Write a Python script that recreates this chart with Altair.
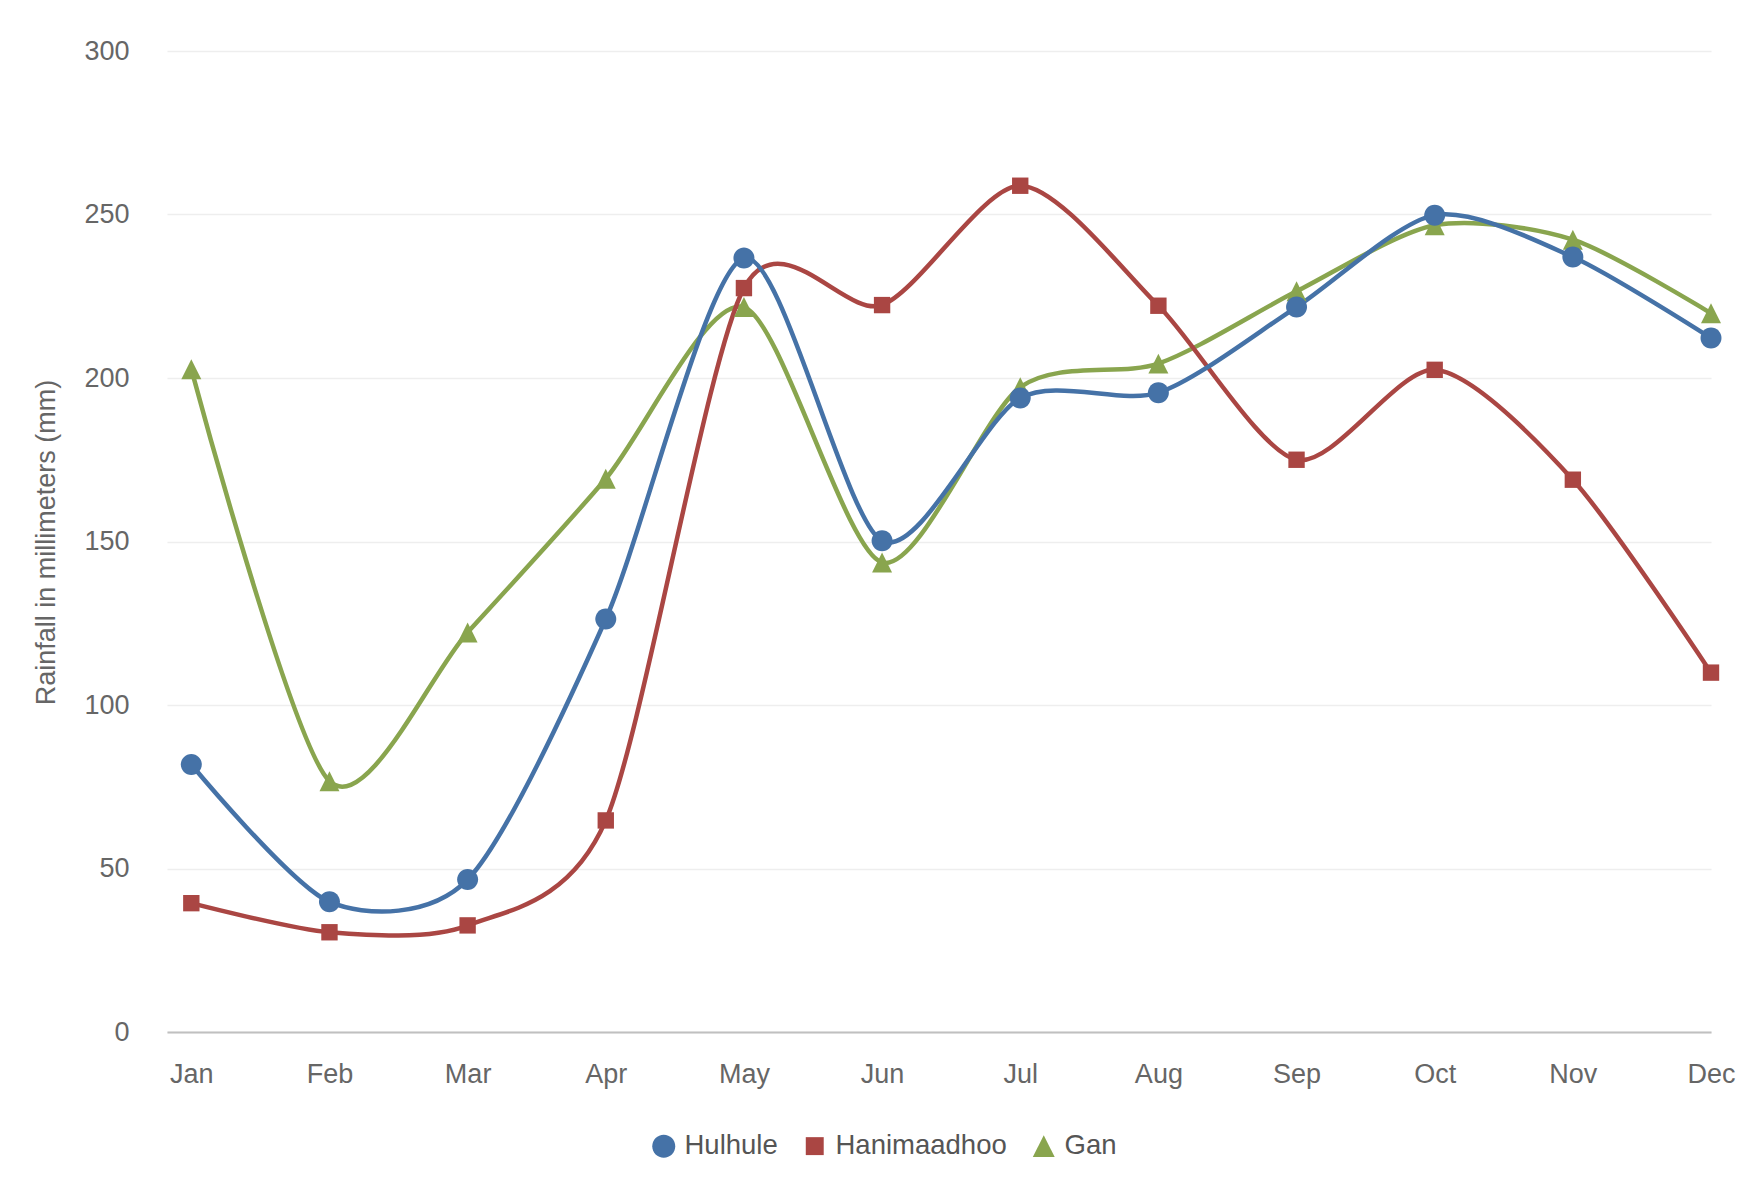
import altair as alt
import pandas as pd

months = ["Jan", "Feb", "Mar", "Apr", "May", "Jun", "Jul", "Aug", "Sep", "Oct", "Nov", "Dec"]
series_names = ["Hulhule", "Hanimaadhoo", "Gan"]
hulhule = [81.8, 39.8, 46.6, 126.3, 236.7, 150.2, 193.9, 195.5, 221.7, 249.8, 237.0, 212.2]
hanimaadhoo = [39.4, 30.5, 32.6, 64.7, 227.5, 222.3, 258.8, 222.1, 175.0, 202.5, 168.9, 109.9]
gan = [202.7, 76.7, 122.2, 169.2, 221.7, 143.6, 197.2, 204.4, 226.5, 246.7, 242.3, 219.8]
y_ticks = [0, 50, 100, 150, 200, 250, 300]

colors = ["#4572A7", "#AA4643", "#89A54E"]
shapes = ["M1,0A1,1,0,1,1,-1,0A1,1,0,1,1,1,0Z",
          "M-0.78,-0.78L0.78,-0.78L0.78,0.78L-0.78,0.78Z",
          "M0,-0.95L0.95,0.95L-0.95,0.95Z"]

rows = []
for name, vals in [("Gan", gan), ("Hanimaadhoo", hanimaadhoo), ("Hulhule", hulhule)]:
    for i, v in enumerate(vals):
        rows.append({"idx": i, "month": months[i], "series": name, "rain": v})
df = pd.DataFrame(rows)

label_expr = "[" + ",".join("'%s'" % m for m in months) + "][datum.value]"

x_enc = alt.X("idx:Q",
              scale=alt.Scale(domain=[-0.176, 11], nice=False, zero=False),
              axis=alt.Axis(values=list(range(12)), labelExpr=label_expr, title=None,
                            grid=False, ticks=False, domain=True, domainColor="#C0C0C0",
                            domainWidth=2, labelFont="Liberation Sans", labelFontSize=27,
                            labelColor="#666666", labelPadding=29, labelFlush=False,
                            labelAlign="center", labelBaseline="top"))
y_enc = alt.Y("rain:Q",
              scale=alt.Scale(domain=[0, 300], nice=False),
              axis=alt.Axis(values=y_ticks, title="Rainfall in millimeters (mm)",
                            grid=True, gridColor="#EEEEEE", gridWidth=1.5,
                            ticks=False, domain=False,
                            labelFont="Liberation Sans", labelFontSize=27,
                            labelColor="#666666", labelPadding=38,
                            titleFont="Liberation Sans", titleFontSize=27,
                            titleFontWeight="normal", titleColor="#666666",
                            titleAngle=270, titleX=-121, titleY=491,
                            titleAlign="center", titleBaseline="middle"))

color_scale = alt.Scale(domain=series_names, range=colors)
legend = alt.Legend(title=None, orient="none", direction="horizontal",
                    legendX=483, legendY=1081, padding=0,
                    symbolSize=529, symbolStrokeWidth=0,
                    labelFont="Liberation Sans", labelFontSize=27.5,
                    labelColor="#555555", labelOffset=7, labelLimit=400,
                    columnPadding=23, symbolOpacity=1)

lines = alt.Chart(df).mark_line(interpolate="cardinal", tension=0.2, strokeWidth=4.5).encode(
    x=x_enc, y=y_enc,
    color=alt.Color("series:N", scale=color_scale, legend=legend),
    order=alt.Order("idx:Q"),
    detail="series:N",
)

points = alt.Chart(df).mark_point(filled=True, opacity=1, strokeWidth=0, size=441).encode(
    x=x_enc, y=y_enc,
    color=alt.Color("series:N", scale=color_scale, legend=legend),
    shape=alt.Shape("series:N", scale=alt.Scale(domain=series_names, range=shapes), legend=legend),
)

chart = alt.layer(lines, points).properties(
    width=1544, height=981,
    background="white",
    autosize=alt.AutoSizeParams(type="none"),
    padding={"left": 159, "top": 43, "right": 30, "bottom": 150},
).configure_view(stroke=None)

chart.save("out.html", embed_options={"renderer": "svg", "actions": False})
